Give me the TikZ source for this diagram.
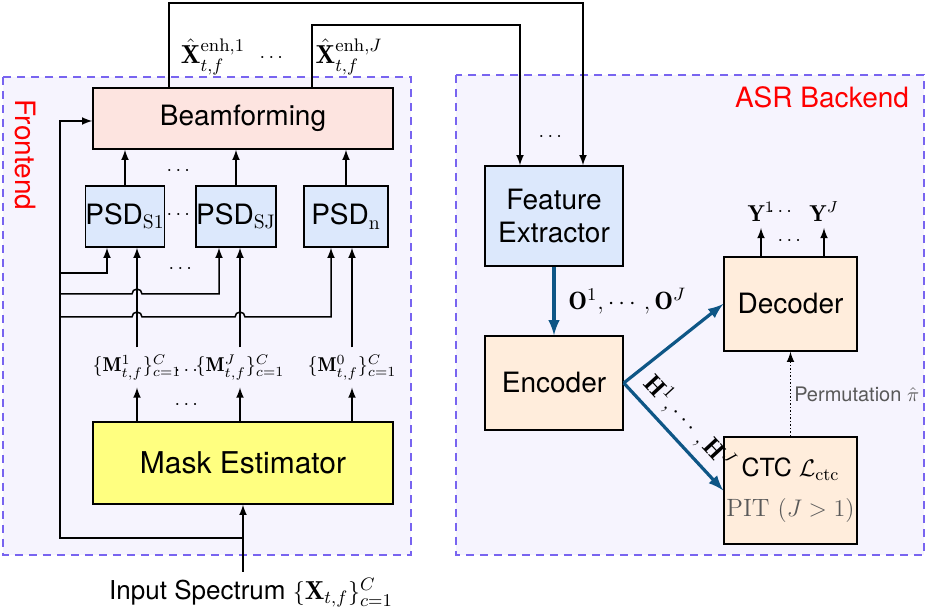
\documentclass[tikz,border=0pt]{standalone}
\usepackage{amsmath}
\usepackage{amssymb}
\usepackage{bm}
\usepackage{fontspec}
\setsansfont{TeX Gyre Heros}
\usepackage{tikz}
\usetikzlibrary{arrows, positioning, calc}

\definecolor{bgpurple}{RGB}{246,244,254}
\definecolor{dashpurple}{RGB}{120,100,240}
\definecolor{beampink}{RGB}{253,228,224}
\definecolor{psdblue}{RGB}{220,232,252}
\definecolor{maskyellow}{RGB}{255,255,128}
\definecolor{peach}{RGB}{255,237,220}
\definecolor{arrowblue}{RGB}{14,86,134}

\tikzset{
  blk/.style={draw, line width=0.75pt, inner sep=0pt, align=center,
    font=\sffamily\fontsize{14}{16.5}\selectfont},
  region/.style={draw=dashpurple, fill=bgpurple, dash pattern=on 4pt off 3pt, line width=0.7pt},
  conn/.style={line width=0.75pt, -latex},
  bigarrow/.style={draw=arrowblue, line width=1.6pt, -latex},
  redlbl/.style={text=red, font=\sffamily\fontsize{14}{16}\selectfont},
  mlbl/.style={font=\fontsize{10}{12}\selectfont, inner xsep=1pt, inner ysep=3.5pt},
  xlbl/.style={font=\fontsize{13}{14}\selectfont, inner sep=1pt},
  ylbl/.style={font=\fontsize{11.5}{13}\selectfont, inner sep=3pt, anchor=south},
  dots/.style={font=\fontsize{10}{11}\selectfont, inner sep=0pt},
}

\begin{document}
\begin{tikzpicture}[x=0.5pt, y=-0.5pt]
\useasboundingbox (0,0) rectangle (926,613);

% Bereiche
\draw[region] (3,77) rectangle (411,555);
\draw[region] (456,75) rectangle (924,555);
\node[redlbl, rotate=-90] (fronttitle) at (25,155) {Frontend};
\node[redlbl] (backtitle) at (822,97) {ASR Backend};

% Frontend
\node[blk, fill=beampink, minimum width=150pt, minimum height=30.5pt] (beam) at (243,118.5) {Beamforming};
\node[blk, fill=psdblue, minimum width=37pt, minimum height=30.5pt] (psdA) at (125,216.5) {PSD$_{\mathrm{S1}}$};
\node[blk, fill=psdblue, minimum width=37pt, minimum height=30.5pt] (psdB) at (236,216.5) {PSD$_{\mathrm{SJ}}$};
\node[blk, fill=psdblue, minimum width=42pt, minimum height=30.5pt] (psdN) at (346,216.5) {PSD$_{\mathrm{n}}$};
\node[blk, fill=maskyellow, minimum width=150pt, minimum height=41pt,
  font=\sffamily\fontsize{15}{17}\selectfont] (mask) at (243,463) {Mask Estimator};

\node[mlbl] (mA) at (137,367.5) {$\{\mathbf{M}^{1}_{t,f}\}^{C}_{c=1}$};
\node[mlbl] (mB) at (240,367.5) {$\{\mathbf{M}^{J}_{t,f}\}^{C}_{c=1}$};
\node[mlbl] (mN) at (352,367.5) {$\{\mathbf{M}^{0}_{t,f}\}^{C}_{c=1}$};

\node[dots] (d1) at (180,171) {$\cdots$};
\node[dots] (d2) at (180,215) {$\cdots$};
\node[dots] (d3) at (182,269) {$\cdots$};
\node[dots] (d4) at (188,371) {$\cdots$};
\node[dots] (d5) at (188,405) {$\cdots$};

\node[font=\sffamily\fontsize{13}{15}\selectfont] (input) at (251,593) {Input Spectrum $\{\mathbf{X}_{t,f}\}^{C}_{c=1}$};

% Masken und PSD
\foreach \m in {mA,mB,mN}
  \draw[conn] (mask.north -| \m) -- (\m.south);
\draw[conn] (mA.north) -- (mA.north |- psdA.south);
\draw[conn] (mB.north) -- (mB.north |- psdB.south);
\draw[conn] (mN.north) -- (mN.north |- psdN.south);
\foreach \p in {psdA,psdB,psdN}
  \draw[conn] (\p.north) -- (\p.north |- beam.south);

% Eingang
\draw[conn] (mask.south |- input.north) -- (mask.south);
\coordinate (tap) at (mask.south |- 0,538);
\draw[conn] (tap) -| (60,121) -- (beam.west |- 0,121);
\draw[conn] (60,273) -| (psdA.south -| 107,0);
\draw[conn] (60,294) -- (132,294) arc[start angle=180, end angle=0, radius=2.5pt] -| (psdB.south -| 219,0);
\draw[conn] (60,317) -- (132,317) arc[start angle=180, end angle=0, radius=2.5pt]
  -- (235,317) arc[start angle=180, end angle=0, radius=2.5pt] -| (psdN.south -| 331,0);

% Ausgaenge
\node[xlbl] (xA) at (213,57) {$\hat{\mathbf{X}}^{\mathrm{enh},1}_{t,f}$};
\node[dots] (xdots) at (273,58) {$\cdots$};
\node[xlbl] (xB) at (349,57) {$\hat{\mathbf{X}}^{\mathrm{enh},J}_{t,f}$};

% Backend
\node[blk, fill=psdblue, minimum width=69pt, minimum height=50pt] (feat) at (554,216) {Feature\\Extractor};
\node[blk, fill=peach, minimum width=69pt, minimum height=47pt] (enc) at (554,383) {Encoder};
\node[blk, fill=peach, minimum width=66.5pt, minimum height=47pt] (dec) at (790.5,304) {Decoder};
\node[blk, fill=peach, minimum width=66.5pt, minimum height=53.5pt,
  font=\sffamily\fontsize{12.5}{15}\selectfont] (ctc) at (790.5,490.5)
  {CTC $\mathcal{L}_{\mathrm{ctc}}$\\[5pt]{\rmfamily\color{black!65}PIT $(J>1)$}};
\node[dots] (bdots) at (552,137) {$\cdots$};

\draw[conn] (beam.north -| 169,0) |- (583,3) -- (feat.north -| 583,0);
\draw[conn] (beam.north -| 312,0) |- (520,25) -- (feat.north -| 520,0);

\draw[bigarrow] (feat.south) -- (enc.north)
  node[midway, right=3pt, font=\fontsize{12.5}{14}\selectfont, text=black] (olbl) {$\mathbf{O}^1, \cdots, \mathbf{O}^J$};
\draw[bigarrow] (enc.east) -- (dec.west);
\draw[bigarrow] (enc.east) -- (ctc.west)
  node[midway, sloped, above, font=\fontsize{12.5}{14}\selectfont, text=black] (hlbl) {$\mathbf{H}^1, \cdots, \mathbf{H}^J$};

\node[ylbl] (yA) at (761,228) {$\mathbf{Y}^1$};
\node[dots] (ydots) at (782,212) {$\cdots$};
\node[ylbl] (yB) at (824,228) {$\mathbf{Y}^J$};
\node[dots] (ydots2) at (791,241) {$\cdots$};
\draw[conn] (yA.south |- dec.north) -- (yA.south);
\draw[conn] (yB.south |- dec.north) -- (yB.south);

\draw[densely dotted, line width=0.75pt, -latex] (ctc.north) -- (dec.south)
  node[midway, right=0.5pt, inner sep=1pt, text=black!65, font=\sffamily\fontsize{10}{11}\selectfont] (perm) {Permutation $\hat{\pi}$};

\end{tikzpicture}
\end{document}
